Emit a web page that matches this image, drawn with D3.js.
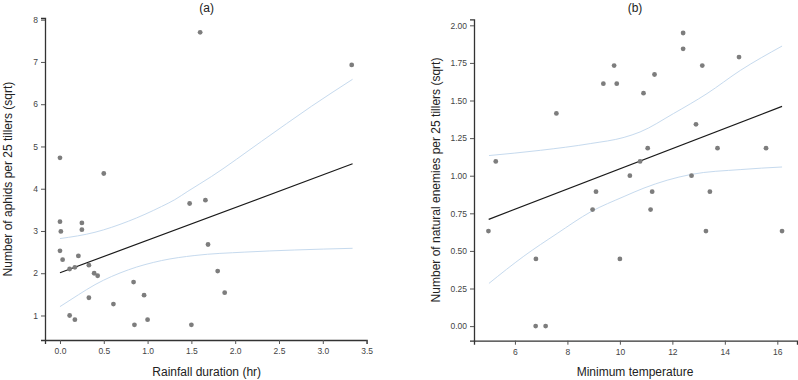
<!DOCTYPE html>
<html><head><meta charset="utf-8">
<script src="https://cdn.jsdelivr.net/npm/d3@7"></script>
<style>
body{margin:0;background:#fff;}
svg{display:block;font-family:"Liberation Sans",Arial,sans-serif;}
</style></head>
<body><svg id="c" width="798" height="380"></svg>
<script>
// Panel (a): rainfall duration vs aphids (sqrt)
const rainX = [0,0.50,1.60,3.33,0,0.01,0,0.03,0.21,0.25,0.25,0.11,0.17,0.33,0.39,0.43,0.33,0.11,0.17,0.61,0.84,0.85,0.96,1.00,1.48,1.66,1.69,1.50,1.80,1.88];
const aphidY = [4.73,4.36,7.70,6.93,3.22,2.99,2.53,2.32,2.41,3.19,3.03,2.10,2.14,2.19,2.00,1.94,1.42,1.00,0.90,1.27,1.79,0.78,1.48,0.90,3.65,3.73,2.68,0.78,2.05,1.54];
const fitAX = [0, 3.34];
const fitAY = [2.01, 4.59];
const upperAX = [0,0.40,0.78,1.16,1.31,1.46,1.73,2.30,2.87,3.34];
const upperAY = [2.82,2.97,3.23,3.58,3.74,3.94,4.29,5.12,5.95,6.59];
const lowerAX = [0,0.21,0.40,0.78,1.16,1.54,2.11,2.68,3.34];
const lowerAY = [1.21,1.49,1.73,2.08,2.30,2.42,2.50,2.55,2.59];
const ticksAX = [0,0.5,1,1.5,2,2.5,3,3.5];
const ticksAY = [1,2,3,4,5,6,7,8];

// Panel (b): minimum temperature vs natural enemies (sqrt)
const tempX = [5.27,7.58,9.37,9.78,9.88,10.90,11.32,12.41,12.41,13.14,14.54,12.90,11.06,10.77,10.38,12.73,13.72,15.57,9.09,11.23,13.43,4.99,6.80,6.79,7.17,8.96,11.17,10.0,13.28,16.18];
const enemyY = [1.095,1.414,1.612,1.732,1.612,1.549,1.673,1.949,1.844,1.732,1.789,1.342,1.183,1.095,1.0,1.0,1.183,1.183,0.894,0.894,0.894,0.632,0.447,0,0,0.775,0.775,0.447,0.632,0.632];
const fitBX = [5.0, 16.18];
const fitBY = [0.71, 1.461];
const upperBX = [5.01,6.98,8.89,10.16,10.77,12.04,13.32,14.59,16.18];
const upperBY = [1.134,1.169,1.214,1.255,1.291,1.413,1.546,1.70,1.862];
const lowerBX = [5.01,6.34,7.61,8.89,10.16,10.92,11.8,12.70,14.61,16.18];
const lowerBY = [0.284,0.465,0.616,0.76,0.862,0.918,0.97,1.008,1.041,1.058];
const ticksBX = [6,8,10,12,14,16];
const ticksBY = [0,0.25,0.5,0.75,1,1.25,1.5,1.75,2];

const svg = d3.select("#c");

function panel(o){
  const g = svg.append("g");
  const x = d3.scaleLinear().domain(o.xd).range(o.xr);
  const y = d3.scaleLinear().domain(o.yd).range(o.yr);
  const xa = g.append("g").attr("transform",`translate(0,${o.yr[0]})`)
    .call(d3.axisBottom(x).tickValues(o.tx).tickFormat(d3.format(o.fx)).tickSizeOuter(0).tickSize(4).tickPadding(4));
  const ya = g.append("g").attr("transform",`translate(${o.xr[0]},0)`)
    .call(d3.axisLeft(y).tickValues(o.ty).tickFormat(d3.format(o.fy)).tickSizeOuter(0).tickSize(4).tickPadding(3));
  [xa,ya].forEach(a=>{
    a.select(".domain").attr("stroke","#333").attr("stroke-width",1.3);
    a.selectAll(".tick line").attr("stroke","#555");
    a.selectAll(".tick text").attr("fill","#444").style("font-size","8.5px").style("font-family","'Liberation Sans',Arial,sans-serif");
  });
  const line = d3.line().x(d=>x(d[0])).y(d=>y(d[1])).curve(d3.curveMonotoneX);
  g.append("path").datum(d3.zip(o.ux,o.uy)).attr("d",line).attr("fill","none").attr("stroke","#c6daee").attr("stroke-width",1);
  g.append("path").datum(d3.zip(o.lx,o.ly)).attr("d",line).attr("fill","none").attr("stroke","#c6daee").attr("stroke-width",1);
  g.append("path").datum(d3.zip(o.fitx,o.fity)).attr("d",d3.line().x(d=>x(d[0])).y(d=>y(d[1])))
    .attr("fill","none").attr("stroke","#1a1a1a").attr("stroke-width",1.2);
  g.selectAll("circle.pt").data(d3.zip(o.px,o.py)).join("circle").attr("class","pt")
    .attr("cx",d=>x(d[0])).attr("cy",d=>y(d[1])).attr("r",2.4).attr("fill","#7d7d7d");
  g.append("text").attr("x",o.titleX).attr("y",12).attr("text-anchor","middle")
    .style("font-size","12px").attr("fill","#222").text(o.title);
  g.append("text").attr("x",o.titleX).attr("y",376).attr("text-anchor","middle")
    .style("font-size","12px").attr("fill","#222").text(o.xlab);
  g.append("text").attr("transform",`translate(${o.ylabX},${(o.yr[0]+o.yr[1])/2}) rotate(-90)`)
    .attr("text-anchor","middle").attr("dy","0.35em").style("font-size","12px").attr("fill","#222").text(o.ylab);
}

panel({xd:[-0.171,3.5], xr:[45,366.6], yd:[0.42,8.04], yr:[340,18],
  tx:ticksAX, ty:ticksAY, fx:".1f", fy:"d",
  px:rainX, py:aphidY, fitx:fitAX, fity:fitAY, ux:upperAX, uy:upperAY, lx:lowerAX, ly:lowerAY,
  title:"(a)", titleX:206.7, xlab:"Rainfall duration (hr)", ylab:"Number of aphids per 25 tillers (sqrt)", ylabX:8});

panel({xd:[4.44,16.75], xr:[474,797], yd:[-0.097,2.04], yr:[340.7,19.3],
  tx:ticksBX, ty:ticksBY, fx:"d", fy:".2f",
  px:tempX, py:enemyY, fitx:fitBX, fity:fitBY, ux:upperBX, uy:upperBY, lx:lowerBX, ly:lowerBY,
  title:"(b)", titleX:635, xlab:"Minimum temperature", ylab:"Number of natural enemies per 25 tillers (sqrt)", ylabX:436});
</script></body></html>
